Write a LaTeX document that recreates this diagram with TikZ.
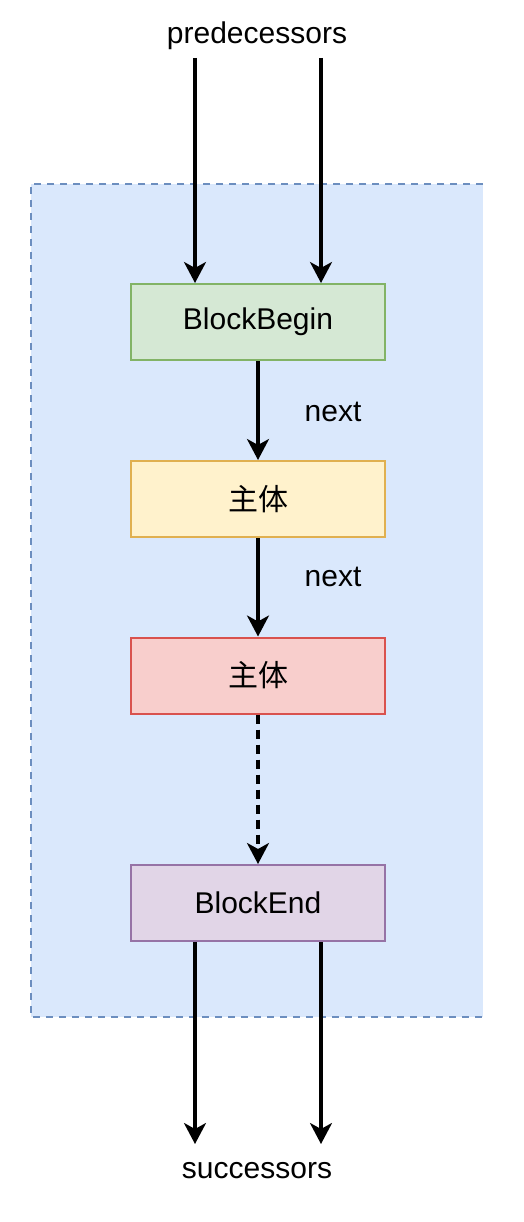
\documentclass[tikz,border=0pt]{standalone}
\usepackage{fontspec}
\setmainfont{Liberation Sans}
\newfontfamily\cjk{Noto Sans CJK SC}
\usetikzlibrary{arrows.meta}
\definecolor{regfill}{HTML}{DAE8FC}
\definecolor{regline}{HTML}{6C8EBF}
\definecolor{gfill}{HTML}{D5E8D4}
\definecolor{gline}{HTML}{82B366}
\definecolor{yfill}{HTML}{FFF2CC}
\definecolor{yline}{HTML}{E0B050}
\definecolor{rfill}{HTML}{F8CECC}
\definecolor{rline}{HTML}{D9524E}
\definecolor{pfill}{HTML}{E1D5E7}
\definecolor{pline}{HTML}{9673A6}
\tikzset{
  blk/.style={draw, line width=2pt, minimum width=254pt, minimum height=76pt, inner sep=0pt, font=\fontsize{30}{34}\selectfont},
  lbl/.style={inner sep=0pt, font=\fontsize{30}{34}\selectfont},
  flow/.style={line width=3.2pt, -{Stealth[length=21pt, width=22pt, inset=6pt]}},
}
\begin{document}
\begin{tikzpicture}[x=1pt,y=-1pt]
\useasboundingbox (0,0) rectangle (524,1222);
\fill[white] (0,0) rectangle (524,1222);
% region
\fill[regfill] (31,184) rectangle (483,1017);
\draw[regline, line width=1.8pt, dash pattern=on 7pt off 6pt] (483,184) -- (31,184) -- (31,1017) -- (483,1017);
% nodes
\node[lbl] (pred) at (257,36) {predecessors};
\node[lbl] (succ) at (257,1171) {successors};
\node[blk, fill=gfill, draw=gline] (bb) at (258,322) {BlockBegin};
\node[blk, fill=yfill, draw=yline] (b1) at (258,499) {\cjk 主体};
\node[blk, fill=rfill, draw=rline] (b2) at (258,675.5) {\cjk 主体};
\node[blk, fill=pfill, draw=pline] (be) at (258,903) {BlockEnd};
\node[lbl] (n1) at (333,412) {next};
\node[lbl] (n2) at (333,577) {next};
\coordinate (p1) at (195,58);
\coordinate (p2) at (321,58);
\coordinate (s1) at (195,1144);
\coordinate (s2) at (321,1144);
% connectors
\draw[flow] (p1) -- (p1 |- bb.north);
\draw[flow] (p2) -- (p2 |- bb.north);
\draw[flow] (bb) -- (b1);
\draw[flow] (b1) -- (b2);
\draw[flow, dash pattern=on 9pt off 6pt] (b2) -- (be);
\draw[flow] (s1 |- be.south) -- (s1);
\draw[flow] (s2 |- be.south) -- (s2);
\end{tikzpicture}
\end{document}
